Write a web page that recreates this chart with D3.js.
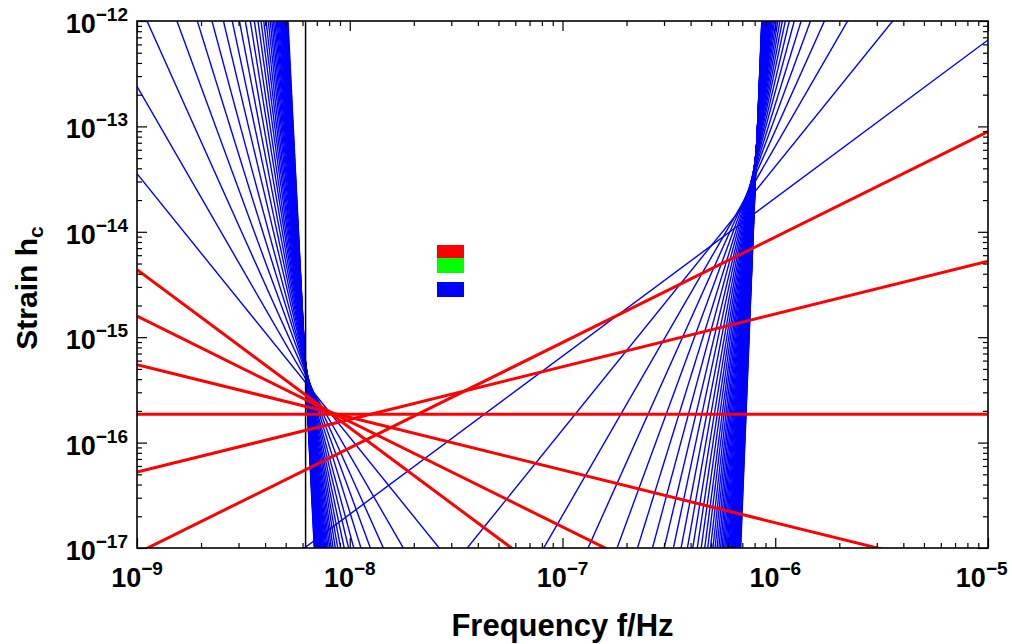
<!DOCTYPE html>
<html>
<head>
    <meta charset="utf-8" />
    <title>Strain vs frequency</title>
    <style>
        body { margin: 0; background: #fff; overflow: hidden; }
        svg { display: block; }
        text { font-family: "Liberation Sans", Arial, Helvetica, sans-serif; font-weight: bold; fill: #000; }
    </style>
</head>
<body>
<div id="chart"></div>
<script src="https://d3js.org/d3.v7.min.js"></script>
<script>
    // axis decades
    var xTickExps = [-9, -8, -7, -6, -5];
    var yTickExps = [-17, -16, -15, -14, -13, -12];

    // red power laws: slope and log10(h_c) at redRefF
    var redRefF = 1e-8;
    var redSlopes = [-1.5, -1, -0.5, 0, 0.5, 1];
    var redLogH = [-15.86, -15.80, -15.76, -15.73, -15.78, -16.05];

    // blue power laws, low-frequency family: log10(h_c) at blueLowF
    var blueLowF = 6.03e-9;
    var blueLowSlopes = [-2.5, -3.5, -4.5, -5.5, -6.5, -7.5, -8.5, -9.5, -10.5, -11.5,
        -12.5, -13.5, -14.5, -15.5, -16.5, -17.5, -18.5, -19.5, -20.5, -21.5,
        -22.5, -23.5, -24.5, -25.5, -26.5, -27.5, -28.5, -29.5, -30.5, -31.5,
        -32.5, -33.5, -34.5, -35.5, -36.5, -37.5, -38.5, -39.5, -40.5];
    var blueLowLogH = [-15.40, -15.35, -15.30, -15.26, -15.23, -15.21, -15.18, -15.16, -15.14, -15.12,
        -15.10, -15.09, -15.07, -15.06, -15.05, -15.04, -15.02, -15.01, -15.00, -14.99,
        -14.98, -14.97, -14.97, -14.96, -14.95, -14.94, -14.93, -14.93, -14.92, -14.91,
        -14.91, -14.90, -14.89, -14.89, -14.88, -14.88, -14.87, -14.87, -14.86];

    // blue power laws, high-frequency family: log10(h_c) at blueHighF
    var blueHighF = 8.32e-7;
    var blueHighSlopes = [1.5, 2.5, 3.5, 4.5, 5.5, 6.5, 7.5, 8.5, 9.5, 10.5,
        11.5, 12.5, 13.5, 14.5, 15.5, 16.5, 17.5, 18.5, 19.5, 20.5,
        21.5, 22.5, 23.5, 24.5, 25.5, 26.5, 27.5, 28.5, 29.5, 30.5,
        31.5, 32.5, 33.5, 34.5, 35.5, 36.5, 37.5, 38.5, 39.5, 40.5,
        41.5, 42.5, 43.5, 44.5, 45.5, 46.5, 47.5, 48.5, 49.5, 50.5];
    var blueHighLogH = [-13.80, -13.58, -13.47, -13.40, -13.35, -13.31, -13.27, -13.24, -13.21, -13.19,
        -13.17, -13.15, -13.13, -13.11, -13.10, -13.08, -13.07, -13.06, -13.04, -13.03,
        -13.02, -13.01, -13.00, -12.99, -12.98, -12.97, -12.97, -12.96, -12.95, -12.94,
        -12.94, -12.93, -12.92, -12.92, -12.91, -12.90, -12.90, -12.89, -12.89, -12.88,
        -12.87, -12.87, -12.86, -12.86, -12.85, -12.85, -12.84, -12.84, -12.84, -12.83];

    // vertical marker (1/T)
    var cutoffF = 6.2e-9;

    // legend swatches (labels are empty in the original)
    var legendColors = ["#ff0000", "#00ff00", "#0000ff"];

    var W = 1012, H = 644;
    var plot = { left: 137, right: 988, top: 21, bottom: 548 };

    var x = d3.scaleLog().domain([1e-9, 1e-5]).range([plot.left, plot.right]);
    var y = d3.scaleLog().domain([1e-17, 1e-12]).range([plot.bottom, plot.top]);

    var svg = d3.select("#chart").append("svg")
        .attr("width", W).attr("height", H);
    svg.append("rect").attr("width", W).attr("height", H).attr("fill", "#fff");

    svg.append("clipPath").attr("id", "clip")
        .append("rect")
        .attr("x", plot.left).attr("y", plot.top)
        .attr("width", plot.right - plot.left).attr("height", plot.bottom - plot.top);

    // build line records: endpoints at the x domain edges
    function powerLaw(refF, slope, logH) {
        return x.domain().map(function (f) {
            var lh = logH + slope * (Math.log10(f) - Math.log10(refF));
            return [f, Math.pow(10, lh)];
        });
    }
    var blueLines = blueLowSlopes.map((s, i) => powerLaw(blueLowF, s, blueLowLogH[i]))
        .concat(blueHighSlopes.map((s, i) => powerLaw(blueHighF, s, blueHighLogH[i])));
    var redLines = redSlopes.map((s, i) => powerLaw(redRefF, s, redLogH[i]));

    var line = d3.line().x(d => x(d[0])).y(d => y(d[1]));

    var lines = svg.append("g").attr("clip-path", "url(#clip)");

    lines.append("g").selectAll("path")
        .data(blueLines)
        .join("path")
        .attr("d", line)
        .attr("fill", "none")
        .attr("stroke", "#0000ff")
        .attr("stroke-width", 1.4);

    lines.append("line")
        .attr("x1", x(cutoffF)).attr("x2", x(cutoffF))
        .attr("y1", plot.top).attr("y2", plot.bottom)
        .attr("stroke", "#000").attr("stroke-width", 1.5);

    lines.append("g").selectAll("path")
        .data(redLines)
        .join("path")
        .attr("d", line)
        .attr("fill", "none")
        .attr("stroke", "#ff0000")
        .attr("stroke-width", 3);

    // ticks, pointing inwards on all four sides
    function minors(exps) {
        var out = [];
        for (var i = 0; i < exps.length - 1; i++)
            for (var m = 2; m <= 9; m++) out.push(m * Math.pow(10, exps[i]));
        return out;
    }
    var xMajor = xTickExps.map(e => Math.pow(10, e));
    var yMajor = yTickExps.map(e => Math.pow(10, e));
    var xMinor = minors(xTickExps);
    var yMinor = minors(yTickExps);

    function tickGroup(axis, tx, ty) {
        var g = svg.append("g").attr("transform", `translate(${tx},${ty})`).call(axis);
        g.select(".domain").remove();
        g.selectAll("line").attr("stroke", "#000").attr("stroke-width", 1.2);
        return g;
    }
    tickGroup(d3.axisBottom(x).tickValues(xMajor).tickSize(-10).tickFormat(""), 0, plot.bottom);
    tickGroup(d3.axisBottom(x).tickValues(xMinor).tickSize(-5).tickFormat(""), 0, plot.bottom);
    tickGroup(d3.axisTop(x).tickValues(xMajor).tickSize(-10).tickFormat(""), 0, plot.top);
    tickGroup(d3.axisTop(x).tickValues(xMinor).tickSize(-5).tickFormat(""), 0, plot.top);
    tickGroup(d3.axisLeft(y).tickValues(yMajor).tickSize(-10).tickFormat(""), plot.left, 0);
    tickGroup(d3.axisLeft(y).tickValues(yMinor).tickSize(-5).tickFormat(""), plot.left, 0);
    tickGroup(d3.axisRight(y).tickValues(yMajor).tickSize(-10).tickFormat(""), plot.right, 0);
    tickGroup(d3.axisRight(y).tickValues(yMinor).tickSize(-5).tickFormat(""), plot.right, 0);

    // frame
    svg.append("rect")
        .attr("x", plot.left).attr("y", plot.top)
        .attr("width", plot.right - plot.left).attr("height", plot.bottom - plot.top)
        .attr("fill", "none").attr("stroke", "#000").attr("stroke-width", 1.6);

    // tick labels 10^n
    function powerLabel(sel, exp) {
        sel.append("tspan").text("10");
        sel.append("tspan").attr("dy", -12).style("font-size", "19px").text("\u2212" + Math.abs(exp));
    }
    svg.append("g").selectAll("text")
        .data(xTickExps)
        .join("text")
        .attr("x", e => x(Math.pow(10, e)))
        .attr("y", 587)
        .attr("text-anchor", "middle")
        .style("font-size", "27px")
        .each(function (e) { powerLabel(d3.select(this), e); })
        .each(function () {
            // keep the last label inside the page
            var b = this.getBBox();
            var over = b.x + b.width - (W - 4);
            if (over > 0) d3.select(this).attr("x", +d3.select(this).attr("x") - over);
        });

    svg.append("g").selectAll("text")
        .data(yTickExps)
        .join("text")
        .attr("x", 128)
        .attr("y", e => y(Math.pow(10, e)) + 12)
        .attr("text-anchor", "end")
        .style("font-size", "27px")
        .each(function (e) { powerLabel(d3.select(this), e); });

    // axis titles
    svg.append("text")
        .attr("x", (plot.left + plot.right) / 2).attr("y", 636)
        .attr("text-anchor", "middle")
        .style("font-size", "31px")
        .text("Frequency f/Hz");

    var yt = svg.append("text")
        .attr("transform", "translate(37,288) rotate(-90)")
        .attr("text-anchor", "middle")
        .style("font-size", "30px");
    yt.append("tspan").text("Strain h");
    yt.append("tspan").attr("dy", 6).style("font-size", "21px").text("c");

    // legend swatches
    var legendY = [245, 258, 282];
    var legendH = [13, 15, 15];
    svg.append("g").selectAll("rect")
        .data(legendColors)
        .join("rect")
        .attr("x", 437).attr("width", 27)
        .attr("y", (d, i) => legendY[i])
        .attr("height", (d, i) => legendH[i])
        .attr("fill", d => d);
</script>
</body>
</html>
